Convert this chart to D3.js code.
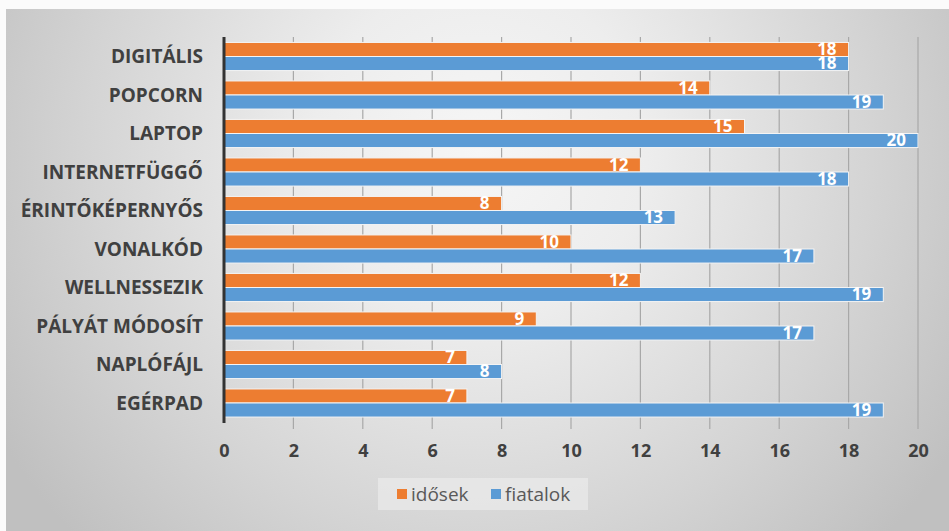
<!DOCTYPE html>
<html><head><meta charset="utf-8">
<script src="https://cdn.jsdelivr.net/npm/d3@7/dist/d3.min.js"></script>
<style>html,body{margin:0;padding:0;background:#fbfbfb;}svg{display:block;}</style>
</head><body>
<script>
const categories = ["DIGITÁLIS","POPCORN","LAPTOP","INTERNETFÜGGŐ","ÉRINTŐKÉPERNYŐS","VONALKÓD","WELLNESSEZIK","PÁLYÁT MÓDOSÍT","NAPLÓFÁJL","EGÉRPAD"];
const idosek   = [18,14,15,12,8,10,12,9,7,7];
const fiatalok = [18,19,20,18,13,17,19,17,8,19];
const seriesNames = ["idősek","fiatalok"];
const seriesColors = ["#ED7D31","#5B9BD5"];
const xTicks = [0,2,4,6,8,10,12,14,16,18,20];

const W = 949, H = 531;
const svg = d3.select("body").append("svg").attr("width", W).attr("height", H);
const defs = svg.append("defs");
const rg = defs.append("radialGradient").attr("id","bg")
  .attr("gradientUnits","userSpaceOnUse").attr("cx",480).attr("cy",150).attr("r",560);
rg.append("stop").attr("offset","0%").attr("stop-color","#f6f6f6");
rg.append("stop").attr("offset","30%").attr("stop-color","#ededed");
rg.append("stop").attr("offset","70%").attr("stop-color","#d4d4d4");
rg.append("stop").attr("offset","100%").attr("stop-color","#c0c0c0");
svg.append("rect").attr("x",6).attr("y",9).attr("width",W-6).attr("height",H-9).attr("fill","url(#bg)");

const x = d3.scaleLinear().domain([0,20]).range([224,918]);
const y = d3.scaleBand().domain(categories).range([37.25,422.25]).paddingInner(0.27).paddingOuter(0.135);
const sub = d3.scaleBand().domain(seriesNames).range([0,y.bandwidth()]).padding(0);

// gridlines
svg.append("g").selectAll("line").data(xTicks.slice(1)).join("line")
  .attr("x1",d=>x(d)).attr("x2",d=>x(d)).attr("y1",37).attr("y2",429)
  .attr("stroke","#a8a8a8").attr("stroke-width",1.2);

const data = categories.map((c,i)=>({cat:c, vals:[idosek[i], fiatalok[i]]}));
const groups = svg.append("g").selectAll("g").data(data).join("g")
  .attr("transform",d=>`translate(0,${y(d.cat)})`);
groups.selectAll("rect").data(d=>d.vals.map((v,j)=>({v,j}))).join("rect")
  .attr("x",x(0)).attr("y",d=>sub(seriesNames[d.j]))
  .attr("width",d=>x(d.v)-x(0)).attr("height",sub.bandwidth())
  .attr("fill",d=>seriesColors[d.j]).attr("stroke","#f4f4f4").attr("stroke-width",1);
groups.selectAll("text").data(d=>d.vals.map((v,j)=>({v,j}))).join("text")
  .attr("x",d=>x(d.v)-12).attr("y",d=>sub(seriesNames[d.j])+sub.bandwidth()/2)
  .attr("dy","0.35em").attr("text-anchor","end")
  .attr("font-family","'Open Sans', sans-serif").attr("font-weight","bold").attr("font-size",17)
  .attr("fill","#ffffff").text(d=>d.v);

// axis line at 0
svg.append("line").attr("x1",x(0)).attr("x2",x(0)).attr("y1",37).attr("y2",423)
  .attr("stroke","#333333").attr("stroke-width",3);

// category labels
svg.append("g").selectAll("text").data(categories).join("text")
  .attr("x",203).attr("y",d=>y(d)+y.bandwidth()/2).attr("dy","0.36em")
  .attr("text-anchor","end").attr("font-family","'Open Sans', sans-serif")
  .attr("font-weight","bold").attr("font-size",19).attr("fill","#404040")
  .text(d=>d);

// x axis
const xa = svg.append("g").attr("transform","translate(0,451)")
  .call(d3.axisBottom(x).tickValues(xTicks).tickSize(0).tickPadding(0));
xa.select(".domain").remove();
xa.selectAll("text").attr("dy","0.36em").attr("font-family","'Open Sans', sans-serif")
  .attr("font-weight","bold").attr("font-size",18).attr("fill","#404040");

// legend
const lg = svg.append("g");
lg.append("rect").attr("x",378).attr("y",478).attr("width",210).attr("height",32).attr("fill","#ebebeb").attr("opacity",0.7);
const items = [{n:seriesNames[0],c:seriesColors[0],x:397},{n:seriesNames[1],c:seriesColors[1],x:491}];
items.forEach(it=>{
  lg.append("rect").attr("x",it.x).attr("y",489).attr("width",10).attr("height",10).attr("fill",it.c);
  lg.append("text").attr("x",it.x+14).attr("y",494).attr("dy","0.36em")
    .attr("font-family","'Open Sans', sans-serif").attr("font-size",19).attr("fill","#595959").text(it.n);
});
</script>
</body></html>
